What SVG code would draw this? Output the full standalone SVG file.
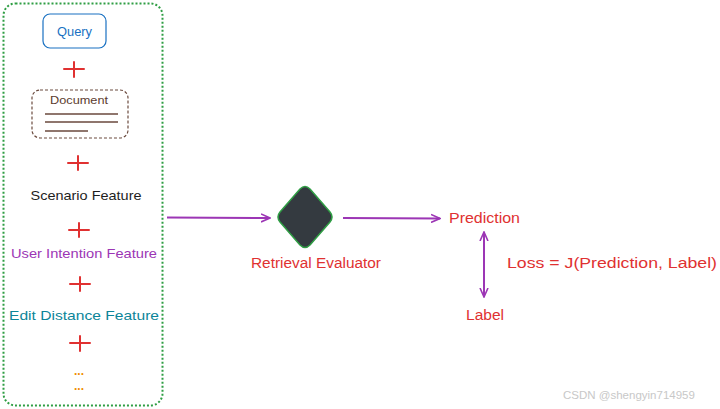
<svg xmlns="http://www.w3.org/2000/svg" width="720" height="409" viewBox="0 0 720 409">
<defs>
<style>
text{font-family:"Liberation Sans","DejaVu Sans",sans-serif;}
.plus{stroke:#e03131;stroke-width:2;fill:none;stroke-linecap:round}
.conn{stroke:#9c36b5;stroke-width:2;fill:none}
.red{fill:#e03131;font-size:14px}
.feat{font-size:13.5px;text-anchor:middle}
</style>
<marker id="ah" viewBox="0 0 10 10" refX="9" refY="5" markerWidth="10" markerHeight="10" markerUnits="userSpaceOnUse" orient="auto-start-reverse">
<path d="M0,1 L9,5 L0,9" fill="none" stroke="#9c36b5" stroke-width="1.6"/>
</marker>
</defs>
<rect width="720" height="409" fill="#ffffff"/>
<g id="container">
<rect x="3.5" y="3.5" width="159" height="402" rx="12" fill="none" stroke="#2f9e44" stroke-width="2" stroke-dasharray="2 2"/>
</g>
<g id="query">
<rect x="43" y="14" width="63" height="34" rx="7" fill="none" stroke="#1971c2" stroke-width="1.2"/>
<text x="74.5" y="36" font-size="12.5" fill="#1971c2" text-anchor="middle" textLength="35" lengthAdjust="spacingAndGlyphs">Query</text>
</g>
<g id="plus1"><path class="plus" d="M64,69 H84 M74,62 V77"/></g>
<g id="document">
<rect x="32" y="90" width="96" height="48" rx="8" fill="none" stroke="#6b4a3e" stroke-width="1.2" stroke-dasharray="3 2"/>
<text x="79" y="104" font-size="11.5" fill="#5c3b2e" text-anchor="middle" textLength="58" lengthAdjust="spacingAndGlyphs">Document</text>
<path d="M45,114 H118 M45,122 H118 M45,131 H88" stroke="#6b4a3e" stroke-width="1.3"/>
</g>
<g id="plus2"><path class="plus" d="M68,163 H88 M78,156 V170"/></g>
<g id="scenario"><text class="feat" x="86" y="200" fill="#1e1e1e" textLength="111" lengthAdjust="spacingAndGlyphs">Scenario Feature</text></g>
<g id="plus3"><path class="plus" d="M69,230 H89 M79,223 V237"/></g>
<g id="userintent"><text class="feat" x="84" y="258" fill="#9c36b5" textLength="146" lengthAdjust="spacingAndGlyphs">User Intention Feature</text></g>
<g id="plus4"><path class="plus" d="M70,284 H90 M80,277 V291"/></g>
<g id="editdist"><text class="feat" x="84" y="320" fill="#0c8599" textLength="150" lengthAdjust="spacingAndGlyphs">Edit Distance Feature</text></g>
<g id="plus5"><path class="plus" d="M70,343 H90 M80,336 V351"/></g>
<g id="ellipsis">
<text x="79" y="375" font-size="12" font-weight="bold" fill="#f08c00" text-anchor="middle">...</text>
<text x="79" y="390" font-size="12" font-weight="bold" fill="#f08c00" text-anchor="middle">...</text>
</g>
<g id="evaluator">
<path d="M300,189 Q305,184 310,189 L330,212 Q334,217 330,222 L310,245 Q305,250 300,245 L280,222 Q276,217 280,212 Z" fill="#343a40" stroke="#2f9e44" stroke-width="1.5"/>
<text class="red" x="316" y="268" text-anchor="middle" textLength="130" lengthAdjust="spacingAndGlyphs">Retrieval Evaluator</text>
</g>
<g id="prediction"><text class="red" x="449" y="223" textLength="71" lengthAdjust="spacingAndGlyphs">Prediction</text></g>
<g id="label"><text class="red" x="485" y="320" text-anchor="middle" textLength="38" lengthAdjust="spacingAndGlyphs">Label</text></g>
<g id="loss"><text class="red" x="507" y="268" font-size="15" textLength="210" lengthAdjust="spacingAndGlyphs">Loss = J(Prediction, Label)</text></g>
<g id="connectors">
<path class="conn" d="M167,217.5 L270,218" marker-end="url(#ah)"/>
<path class="conn" d="M343,218 L440,218.5" marker-end="url(#ah)"/>
<path class="conn" d="M484,232 L484,297" marker-start="url(#ah)" marker-end="url(#ah)"/>
</g>
<g id="watermark"><text x="563" y="399" font-size="11.5" fill="#c8c8c8">CSDN @shengyin714959</text></g>
</svg>
